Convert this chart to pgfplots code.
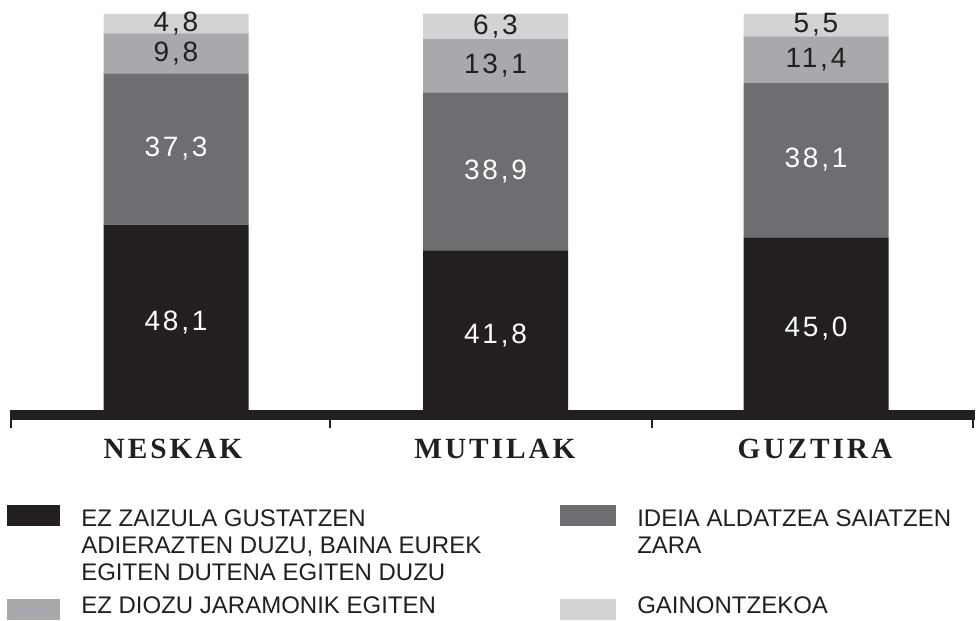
\documentclass[border=0pt]{standalone}
\usepackage{pgfplots}
\pgfplotsset{compat=1.18}
\usepackage{fontspec}
\setmainfont{Liberation Sans}
\newfontfamily\numfont[LetterSpace=10]{Liberation Sans}
\newfontfamily\catfont[LetterSpace=10]{Liberation Serif}
\definecolor{c1}{HTML}{231F20}
\definecolor{c2}{HTML}{6D6E71}
\definecolor{c3}{HTML}{A7A9AC}
\definecolor{c4}{HTML}{D1D3D4}
\pgfplotsset{
  centered labels/.style={
    nodes near coords,
    point meta=rawy,
    every node near coord/.append style={anchor=center,
      font=\numfont\fontsize{21}{21}\selectfont, text=#1},
  },
}
\begin{document}
\begin{tikzpicture}
\path[use as bounding box] (0,0) rectangle (732pt,465.75pt);
\begin{axis}[
  at={(7.5pt,150.75pt)}, anchor=south west,
  scale only axis, width=723.75pt, height=304.5pt,
  xmin=0, xmax=965, ymin=0, ymax=100,
  ybar stacked, bar width=108.75pt,
  axis x line*=bottom, axis y line=none,
  axis line style={draw=none},
  xtick={1,320,642,963}, xticklabels={},
  tick align=outside, major tick length=6pt,
  tick style={draw=c1, line width=1.5pt},
  ytick=\empty,
  clip=false,
  /pgf/number format/.cd, fixed, fixed zerofill, precision=1, use comma, assume math mode=true,
]
\addplot[fill=c1, draw=none, centered labels=white] coordinates {(166,48.1) (485.5,41.8) (806,45.0)};
\addplot[fill=c2, draw=none, centered labels=white] coordinates {(166,37.3) (485.5,38.9) (806,38.1)};
\addplot[fill=c3, draw=none, centered labels=c1] coordinates {(166,9.8) (485.5,13.1) (806,11.4)};
\addplot[fill=c4, draw=none, centered labels=c1] coordinates {(166,4.8) (485.5,6.3) (806,5.5)};
\fill[c1] (axis cs:0,0) rectangle (axis cs:965,2.46);
\node[text=c1, font=\catfont\bfseries\fontsize{22}{22}\selectfont, anchor=center] at ([yshift=-21.4pt]axis cs:163,0) {NESKAK};
\node[text=c1, font=\catfont\bfseries\fontsize{22}{22}\selectfont, anchor=center] at ([yshift=-21.4pt]axis cs:485,0) {MUTILAK};
\node[text=c1, font=\catfont\bfseries\fontsize{22}{22}\selectfont, anchor=center] at ([yshift=-21.4pt]axis cs:805,0) {GUZTIRA};
\end{axis}
% legend
\begin{scope}[x=0.75pt,y=0.75pt]
\fill[c1] (7,95) rectangle (60,116);
\node[anchor=north west, inner sep=0pt, align=left, text=c1, font=\fontsize{18}{20.25}\selectfont] at (81,112)
  {EZ ZAIZULA GUSTATZEN\\ADIERAZTEN DUZU, BAINA EUREK\\EGITEN DUTENA EGITEN DUZU};
\fill[c2] (560,95) rectangle (616,116);
\node[anchor=north west, inner sep=0pt, align=left, text=c1, font=\fontsize{18}{20.25}\selectfont] at (637,112)
  {IDEIA ALDATZEA SAIATZEN\\ZARA};
\fill[c3] (7,1) rectangle (60,22);
\node[anchor=base west, inner sep=0pt, text=c1, font=\fontsize{18}{20.25}\selectfont] at (81,7) {EZ DIOZU JARAMONIK EGITEN};
\fill[c4] (560,1) rectangle (616,22);
\node[anchor=base west, inner sep=0pt, text=c1, font=\fontsize{18}{20.25}\selectfont] at (637,7) {GAINONTZEKOA};
\end{scope}
\end{tikzpicture}
\end{document}
